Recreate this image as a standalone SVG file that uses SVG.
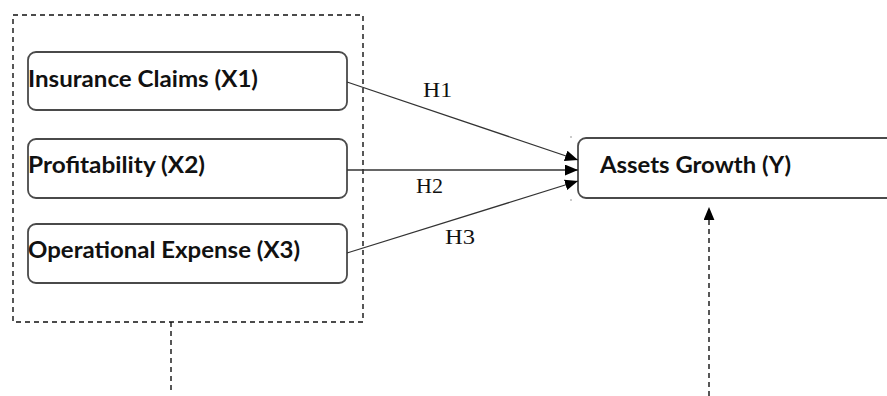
<svg xmlns="http://www.w3.org/2000/svg" width="887" height="396" viewBox="0 0 887 396">
<style>
.node{fill:#fff;stroke:#4a4a4a;stroke-width:1.8}
.lbl{font-family:Lato,"Liberation Sans",sans-serif;font-weight:bold;font-size:23px;fill:#111}
.h{font-family:"Liberation Serif","Times New Roman",serif;font-size:22px;fill:#111}
.dash{fill:none;stroke:#111;stroke-width:1.4;stroke-dasharray:5 4}
.conn{stroke:#333;stroke-width:1.3;fill:none}
</style>
<defs>
<marker id="ah" viewBox="0 0 12 10" refX="12" refY="5" markerWidth="13" markerHeight="11" markerUnits="userSpaceOnUse" orient="auto">
<path d="M0,0 L12,5 L0,10 z" fill="#000"/>
</marker>
</defs>
<rect width="887" height="396" fill="#fff"/>
<g id="group-box">
<rect class="dash" x="13" y="15" width="350" height="307"/>
</g>
<g id="x1">
<rect class="node" x="28" y="52" width="319" height="58" rx="8"/>
<text class="lbl" x="28" y="87" textLength="230" lengthAdjust="spacingAndGlyphs">Insurance Claims (X1)</text>
</g>
<g id="x2">
<rect class="node" x="28" y="139" width="319" height="59" rx="8"/>
<text class="lbl" x="28" y="173" textLength="177" lengthAdjust="spacingAndGlyphs">Profitability (X2)</text>
</g>
<g id="x3">
<rect class="node" x="28" y="224" width="319" height="59" rx="8"/>
<text class="lbl" x="28" y="258" textLength="272" lengthAdjust="spacingAndGlyphs">Operational Expense (X3)</text>
</g>
<g id="y">
<rect class="node" x="578" y="138" width="330" height="60" rx="8"/>
<text class="lbl" x="600" y="173" textLength="191" lengthAdjust="spacingAndGlyphs">Assets Growth (Y)</text>
</g>
<g id="connectors">
<line class="conn" x1="347" y1="82" x2="578" y2="160" marker-end="url(#ah)"/>
<line class="conn" x1="347" y1="170" x2="578" y2="170" marker-end="url(#ah)"/>
<line class="conn" x1="347" y1="253" x2="578" y2="181" marker-end="url(#ah)"/>
<line class="dash" x1="171" y1="322" x2="171" y2="394"/>
<line class="dash" x1="709" y1="396" x2="709" y2="207" marker-end="url(#ah)"/>
<circle cx="571" cy="137" r="0.8" fill="#888"/>
<circle cx="571" cy="200" r="0.8" fill="#888"/>
<text class="h" x="423" y="97" textLength="29" lengthAdjust="spacingAndGlyphs">H1</text>
<text class="h" x="416" y="193" textLength="27" lengthAdjust="spacingAndGlyphs">H2</text>
<text class="h" x="445" y="244" textLength="30" lengthAdjust="spacingAndGlyphs">H3</text>
</g>
</svg>
